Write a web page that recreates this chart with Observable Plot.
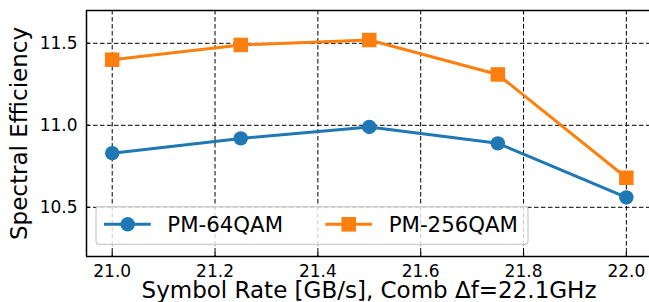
<!DOCTYPE html>
<html>
<head>
<meta charset="utf-8">
<script src="https://cdn.jsdelivr.net/npm/d3@7"></script>
<script src="https://cdn.jsdelivr.net/npm/@observablehq/plot@0.6"></script>
<style>
  html, body { margin: 0; padding: 0; background: #fff; }
  svg { display: block; font-family: "DejaVu Sans", sans-serif; }
</style>
</head>
<body>
<div id="chart"></div>
<script>
const symbolRates = [21.0, 21.25, 21.5, 21.75, 22.0];
const pm64qam = [10.83, 10.92, 10.99, 10.89, 10.56];
const pm256qam = [11.40, 11.49, 11.52, 11.31, 10.68];
const seriesNames = ["PM-64QAM", "PM-256QAM"];
const seriesColors = ["#1f77b4", "#ff7f0e"];
const xTicks = [21.0, 21.2, 21.4, 21.6, 21.8, 22.0];
const yTicks = [10.5, 11.0, 11.5];
const xLabel = "Symbol Rate [GB/s], Comb Δf=22.1GHz";
const yLabel = "Spectral Efficiency";

const d64 = symbolRates.map((x, i) => ({x, y: pm64qam[i]}));
const d256 = symbolRates.map((x, i) => ({x, y: pm256qam[i]}));

const xDomain = [20.95, 22.045];
const yDomain = [10.2, 11.7];
const dash = "4.5,2.5";

const plot = Plot.plot({
  width: 649,
  height: 302,
  marginLeft: 86,
  marginRight: 0,
  marginTop: 10,
  marginBottom: 46,
  style: {fontFamily: "DejaVu Sans, sans-serif", background: "white", color: "black"},
  x: {domain: xDomain},
  y: {domain: yDomain},
  marks: [
    Plot.gridX(xTicks, {stroke: "black", strokeOpacity: 1, strokeWidth: 1, strokeDasharray: dash}),
    Plot.gridY(yTicks, {stroke: "black", strokeOpacity: 1, strokeWidth: 1, strokeDasharray: dash}),
    Plot.axisX({ticks: xTicks, tickFormat: d3.format(".1f"), tickSize: 0, tickPadding: 8.5, fontSize: 17, label: null}),
    Plot.axisX({ticks: xTicks, tickSize: 4, text: null, dy: -4, strokeWidth: 1.2, label: null}),
    Plot.axisY({ticks: yTicks, tickFormat: d3.format(".1f"), tickSize: 0, tickPadding: 9, fontSize: 17, label: null}),
    Plot.axisY({ticks: yTicks, tickSize: 4, text: null, dx: 4, strokeWidth: 1.2, label: null}),
    Plot.ruleY([yDomain[1]], {stroke: "black", strokeWidth: 1.5}),
    Plot.ruleY([yDomain[0]], {stroke: "black", strokeWidth: 1.5}),
    Plot.ruleX([xDomain[0]], {stroke: "black", strokeWidth: 1.5}),
    Plot.line(d64, {x: "x", y: "y", stroke: seriesColors[0], strokeWidth: 3}),
    Plot.dot(d64, {x: "x", y: "y", fill: seriesColors[0], r: 7.2, symbol: "circle"}),
    Plot.line(d256, {x: "x", y: "y", stroke: seriesColors[1], strokeWidth: 3}),
    Plot.dot(d256, {x: "x", y: "y", fill: seriesColors[1], r: 8.2, symbol: "square"}),
    Plot.text([xLabel], {text: d => d, frameAnchor: "bottom", lineAnchor: "middle", textAnchor: "middle", dy: 34, dx: 1, fontSize: 23, fill: "black"}),
    Plot.text([yLabel], {text: d => d, frameAnchor: "left", lineAnchor: "middle", textAnchor: "middle", rotate: -90, dx: -66.7, fontSize: 23, fill: "black"})
  ]
});

// Legend (matplotlib style box)
const svg = d3.select(plot);
const g = svg.append("g").attr("text-anchor", "start");
g.append("rect").attr("x", 96).attr("y", 206.7).attr("width", 432).attr("height", 37.6)
  .attr("rx", 3).attr("fill", "white").attr("fill-opacity", 0.8)
  .attr("stroke", "#cccccc").attr("stroke-width", 1.2);
const entries = [
  {x1: 104, x2: 150.7, cx: 127.7, tx: 167.3, sym: "circle"},
  {x1: 325.3, x2: 372, cx: 348.7, tx: 388.7, sym: "square"}
];
entries.forEach((e, i) => {
  const cy = 224.3;
  g.append("line").attr("x1", e.x1).attr("x2", e.x2).attr("y1", cy).attr("y2", cy)
    .attr("stroke", seriesColors[i]).attr("stroke-width", 3);
  if (e.sym === "circle") {
    g.append("circle").attr("cx", e.cx).attr("cy", cy).attr("r", 7.2).attr("fill", seriesColors[i]);
  } else {
    g.append("rect").attr("x", e.cx - 7.3).attr("y", cy - 7.3).attr("width", 14.6).attr("height", 14.6).attr("fill", seriesColors[i]);
  }
  g.append("text").attr("x", e.tx).attr("y", 232.3).attr("font-size", 21.3)
    .attr("text-anchor", "start").attr("fill", "black").text(seriesNames[i]);
});

document.getElementById("chart").appendChild(plot);
</script>
</body>
</html>
